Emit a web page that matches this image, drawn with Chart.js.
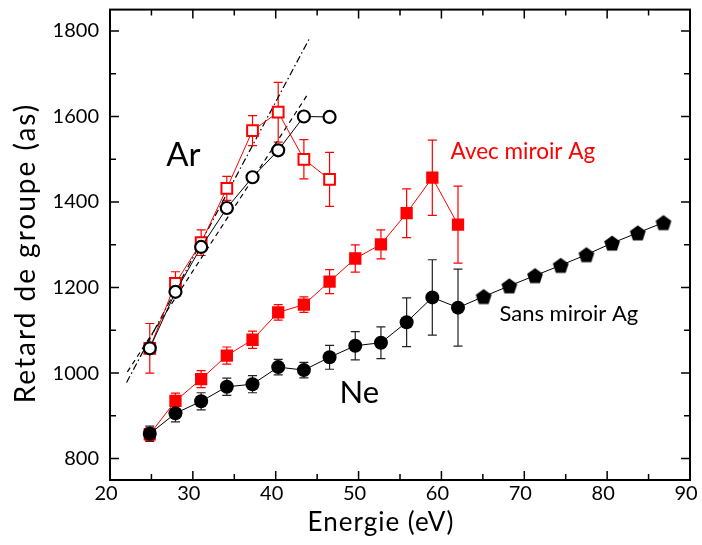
<!DOCTYPE html>
<html>
<head>
<meta charset="utf-8">
<script src="https://cdn.jsdelivr.net/npm/chart.js@4/dist/chart.umd.min.js"></script>
<style>
  html, body { margin: 0; padding: 0; background: #fff; }
  #graphique { display: block; }
</style>
</head>
<body>
<canvas id="graphique" width="702" height="545"></canvas>
<script>
// energies des harmoniques (eV)
const energie = [24.8, 27.9, 31.0, 34.1, 37.2, 40.3, 43.4, 46.5, 49.6, 52.7, 55.8,
                 58.9, 62.0, 65.1, 68.2, 71.3, 74.4, 77.5, 80.6, 83.7, 86.8];

// Argon (symboles ouverts)
const arSansMiroir = [1058, 1190, 1295, 1386, 1458, 1521, 1600, 1599];
const arAvecMiroir = [1058, 1210, 1305, 1432, 1567, 1610, 1500, 1453];
const arAvecErr = [58, 27, 30, 28, 35, 70, 46, 63];

// Neon (symboles pleins)
const neSansMiroir = [858, 906, 934, 968, 974, 1014, 1007, 1037, 1064, 1071, 1119, 1177, 1153,
                      1179, 1204, 1228, 1252, 1277, 1304, 1328, 1352];
const neSansErr = [18, 20, 20, 20, 20, 18, 18, 28, 33, 37, 57, 88, 90];
const neAvecMiroir = [857, 935, 986, 1041, 1078, 1142, 1160, 1214, 1268, 1301, 1374, 1457, 1347];
const neAvecErr = [15, 18, 20, 20, 20, 18, 18, 28, 32, 34, 57, 88, 90];

// droites d'ajustement (Ar)
const fitPointTiret = [[22.0, 978], [44.0, 1780]];
const fitTiret = [[22.1, 1003], [44.0, 1656]];

// graduations
const ticksX = [20, 25, 30, 35, 40, 45, 50, 55, 60, 65, 70, 75, 80, 85, 90];
const ticksY = [800, 900, 1000, 1100, 1200, 1300, 1400, 1500, 1600, 1700, 1800];

const ROUGE = "#ff0000";

function points(valeurs) {
    return valeurs.map(function (v, i) { return {x: energie[i], y: v}; });
}

// pentagone pour la fin de la serie Ne
const pentagone = document.createElement("canvas");
pentagone.width = 18;
pentagone.height = 18;
(function () {
    const c = pentagone.getContext("2d");
    c.beginPath();
    for (let k = 0; k < 5; k++) {
        const a = -Math.PI / 2 + k * 2 * Math.PI / 5;
        const px = 9 + 8.3 * Math.cos(a);
        const py = 9.8 + 8.3 * Math.sin(a);
        if (k === 0) c.moveTo(px, py); else c.lineTo(px, py);
    }
    c.closePath();
    c.fillStyle = "#000";
    c.fill();
})();

// barres d'erreur + cadre + petits traits vers l'interieur + textes
const decorations = {
    id: "decorations",
    beforeDatasetsDraw(chart) {
        const ctx = chart.ctx;
        const xs = chart.scales.x, ys = chart.scales.y;
        chart.data.datasets.forEach(function (ds) {
            if (!ds.erreurs) return;
            ctx.save();
            ctx.strokeStyle = ds.couleurErreur;
            ctx.lineWidth = 1.2;
            ds.erreurs.forEach(function (e, i) {
                const p = ds.data[i];
                const x = xs.getPixelForValue(p.x);
                const y1 = ys.getPixelForValue(p.y - e);
                const y2 = ys.getPixelForValue(p.y + e);
                ctx.beginPath();
                ctx.moveTo(x, y1); ctx.lineTo(x, y2);
                ctx.moveTo(x - 4.5, y1); ctx.lineTo(x + 4.5, y1);
                ctx.moveTo(x - 4.5, y2); ctx.lineTo(x + 4.5, y2);
                ctx.stroke();
            });
            ctx.restore();
        });
    },
    afterDraw(chart) {
        const ctx = chart.ctx;
        const a = chart.chartArea;
        const xs = chart.scales.x, ys = chart.scales.y;
        ctx.save();
        ctx.setLineDash([]);
        ctx.strokeStyle = "#000";
        ctx.lineWidth = 2;
        ctx.strokeRect(a.left, a.top, a.right - a.left, a.bottom - a.top);
        ctx.lineWidth = 1.5;
        ctx.beginPath();
        ticksX.forEach(function (v) {
            const x = xs.getPixelForValue(v);
            const l = v % 10 === 0 ? 9 : 6;
            ctx.moveTo(x, a.bottom); ctx.lineTo(x, a.bottom - l);
            ctx.moveTo(x, a.top); ctx.lineTo(x, a.top + l);
        });
        ticksY.forEach(function (v) {
            const y = ys.getPixelForValue(v);
            const l = v % 200 === 0 ? 9 : 6;
            ctx.moveTo(a.left, y); ctx.lineTo(a.left + l, y);
            ctx.moveTo(a.right, y); ctx.lineTo(a.right - l, y);
        });
        ctx.stroke();

        // etiquettes dans le graphique
        ctx.textBaseline = "alphabetic";
        ctx.textAlign = "left";
        ctx.fillStyle = "#000";
        ctx.font = "33px Lato";
        ctx.fillText("Ar", xs.getPixelForValue(26.8), ys.getPixelForValue(1484));
        ctx.font = "31px Lato";
        ctx.fillText("Ne", xs.getPixelForValue(47.7), ys.getPixelForValue(929));
        ctx.font = "22.5px Lato";
        ctx.fillStyle = ROUGE;
        ctx.fillText("Avec miroir Ag", xs.getPixelForValue(61.1), ys.getPixelForValue(1501));
        ctx.fillStyle = "#000";
        ctx.font = "22px Lato";
        ctx.fillText("Sans miroir Ag", xs.getPixelForValue(67.0), ys.getPixelForValue(1121));

        // titres des axes
        ctx.textAlign = "center";
        ctx.font = "26px Lato";
        ctx.letterSpacing = "1px";
        ctx.fillText("Energie (eV)", 381, 531);
        ctx.translate(35, 253);
        ctx.rotate(-Math.PI / 2);
        ctx.font = "28px Lato";
        ctx.letterSpacing = "2px";
        ctx.fillText("Retard de groupe (as)", 0, 0);
        ctx.restore();
    }
};

const ctx = document.getElementById("graphique").getContext("2d");

new Chart(ctx, {
    type: "scatter",
    data: {
        datasets: [
            {
                label: "Ne sans miroir",
                data: points(neSansMiroir),
                erreurs: neSansErr,
                couleurErreur: "#222",
                showLine: true,
                borderColor: "#000",
                borderWidth: 1,
                backgroundColor: "#000",
                pointBackgroundColor: "#000",
                pointBorderWidth: 0,
                pointRadius: 7,
                pointStyle: function (c) { return c.dataIndex >= 13 ? pentagone : "circle"; },
                order: 1
            },
            {
                label: "Ar sans miroir",
                data: points(arSansMiroir),
                showLine: true,
                borderColor: "#000",
                borderWidth: 1,
                pointBackgroundColor: "#fff",
                pointBorderColor: "#000",
                pointBorderWidth: 2.2,
                pointRadius: 6,
                order: 2
            },
            {
                label: "Ne avec miroir",
                data: points(neAvecMiroir),
                erreurs: neAvecErr,
                couleurErreur: ROUGE,
                showLine: true,
                borderColor: ROUGE,
                borderWidth: 1,
                pointBackgroundColor: ROUGE,
                pointBorderWidth: 0,
                pointStyle: "rect",
                pointRadius: 8.7,
                order: 3
            },
            {
                label: "Ar avec miroir",
                data: points(arAvecMiroir),
                erreurs: arAvecErr,
                couleurErreur: ROUGE,
                showLine: true,
                borderColor: ROUGE,
                borderWidth: 1,
                pointBackgroundColor: "#fff",
                pointBorderColor: ROUGE,
                pointBorderWidth: 2,
                pointStyle: "rect",
                pointRadius: 7.6,
                order: 4
            },
            {
                label: "fit 1",
                data: fitPointTiret.map(function (p) { return {x: p[0], y: p[1]}; }),
                showLine: true,
                borderColor: "#000",
                borderWidth: 1.2,
                borderDash: [7, 3, 1.5, 3],
                pointRadius: 0,
                order: 5
            },
            {
                label: "fit 2",
                data: fitTiret.map(function (p) { return {x: p[0], y: p[1]}; }),
                showLine: true,
                borderColor: "#000",
                borderWidth: 1.2,
                borderDash: [5, 4],
                pointRadius: 0,
                order: 6
            }
        ]
    },
    options: {
        responsive: false,
        animation: false,
        layout: { padding: { top: 7, right: 12, left: 0, bottom: 0 } },
        plugins: { legend: { display: false }, tooltip: { enabled: false } },
        scales: {
            x: {
                type: "linear",
                min: 20,
                max: 90,
                grid: { display: false, drawTicks: false, tickLength: 0 },
                border: { display: false },
                afterFit: function (s) {
                    s.height = 65;
                    s.paddingLeft = 0;
                    s.paddingRight = 0;
                },
                afterBuildTicks: function (s) {
                    s.ticks = ticksX.filter(function (v) { return v % 10 === 0; }).map(function (v) { return {value: v}; });
                },
                ticks: {
                    autoSkip: false,
                    maxRotation: 0,
                    padding: 2,
                    labelOffset: -4,
                    color: "#000",
                    font: { family: "Lato", size: 20 },
                    callback: function (v) { return String(v); }
                }
            },
            y: {
                type: "linear",
                min: 750,
                max: 1850,
                grid: { display: false, drawTicks: false, tickLength: 0 },
                border: { display: false },
                afterFit: function (s) {
                    s.width = 110;
                    s.paddingTop = 0;
                    s.paddingBottom = 0;
                },
                afterBuildTicks: function (s) {
                    s.ticks = ticksY.filter(function (v) { return v % 200 === 0; }).map(function (v) { return {value: v}; });
                },
                ticks: {
                    autoSkip: false,
                    padding: 11,
                    color: "#000",
                    font: { family: "Lato", size: 20 },
                    callback: function (v) { return String(v); }
                }
            }
        }
    },
    plugins: [decorations]
});
</script>
</body>
</html>
